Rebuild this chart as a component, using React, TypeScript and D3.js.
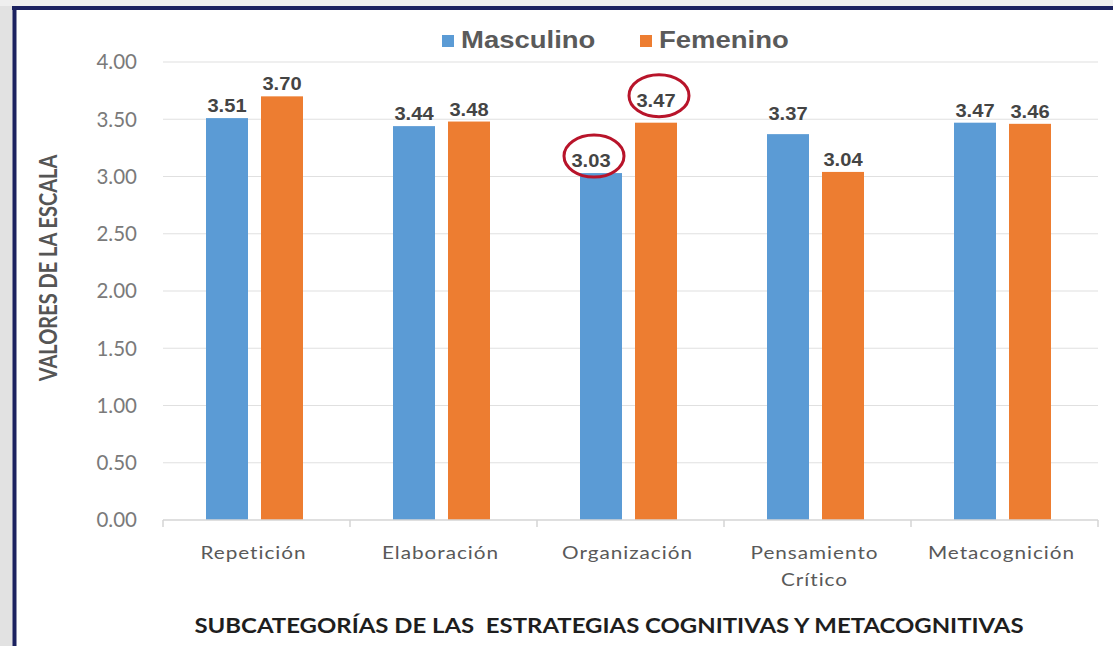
import React from 'react';
import * as d3 from 'd3';

const categories = ['Repetición', 'Elaboración', 'Organización', 'Pensamiento Crítico', 'Metacognición'];
const masculino = [3.51, 3.44, 3.03, 3.37, 3.47];
const femenino = [3.70, 3.48, 3.47, 3.04, 3.46];
const yTicks = [0, 0.5, 1, 1.5, 2, 2.5, 3, 3.5, 4];
const seriesNames = ['Masculino', 'Femenino'];
const seriesColors = ['#5b9bd5', '#ed7d31'];
// values marked with a red ring: [categoryIndex, seriesIndex]
const circled = [[2, 0], [2, 1]];

const W = 1113;
const H = 646;
const margin = { left: 163, right: 15, top: 62, bottom: 126 };
// the source picture is stretched sideways, so text is too
const SX = 1.22;

// hand nudges of a few labels, as in the source ("cat-series": [dx, dy])
const labelNudge: Record<string, [number, number]> = {
  '2-0': [-10, 0],
  '2-1': [0, -10],
  '3-0': [0, -8],
};

const labelFont = '"Liberation Sans", Arial, sans-serif';
const calFont = 'Lato, "Open Sans", sans-serif';

const Txt: React.FC<{ x: number; y: number; sx?: number; rotate?: number } & React.SVGProps<SVGTextElement>> =
  ({ x, y, sx = SX, rotate, children, ...rest }) => (
    <text transform={`translate(${x},${y}) scale(${sx},1)${rotate ? ` rotate(${rotate})` : ''}`} {...rest}>
      {children}
    </text>
  );

const App: React.FC = () => {
  const x = d3.scaleBand<string>()
    .domain(categories)
    .range([margin.left, W - margin.right]);
  const y = d3.scaleLinear().domain([0, 4]).range([H - margin.bottom, margin.top]);
  const barW = 42;
  const gap = 13;
  const sub = d3.scaleOrdinal<string, number>()
    .domain(seriesNames)
    .range([-(gap / 2) - barW - 2, gap / 2 - 2]);
  const values = [masculino, femenino];
  const center = (c: string) => (x(c) as number) + x.bandwidth() / 2;

  return (
    <div>
      <style>{'body{margin:0}'}</style>
      <svg width={W} height={H} style={{ display: 'block' }}>
        {/* page background and frame */}
        <rect x={0} y={0} width={W} height={H} fill="#e2e2e2" />
        <rect x={0} y={0} width={W} height={6} fill="#efefef" />
        <rect x={14} y={9} width={W - 14} height={H - 9} fill="#ffffff" />
        <line x1={12} x2={W} y1={8} y2={8} stroke="#1c2260" strokeWidth={4} />
        <line x1={14.5} x2={14.5} y1={6} y2={H} stroke="#1c2260" strokeWidth={4} />

        {/* gridlines and y tick labels */}
        {yTicks.map(t => (
          <g key={t}>
            {t > 0 && (
              <line x1={margin.left} x2={W - margin.right} y1={y(t)} y2={y(t)}
                stroke="#e0e0e0" strokeWidth={1.2} />
            )}
            <text x={137} y={y(t)} dy="0.36em" textAnchor="end"
              fontFamily={calFont} fontSize={20.5} fill="#7a7a7a">
              {t.toFixed(2)}
            </text>
          </g>
        ))}

        {/* bars and value labels */}
        {categories.map((c, i) => seriesNames.map((s, j) => {
          const v = values[j][i];
          const bx = center(c) + sub(s);
          const [dx, dy] = labelNudge[`${i}-${j}`] || [0, 0];
          return (
            <g key={c + s}>
              <rect x={bx} y={y(v)} width={barW} height={y(0) - y(v)} fill={seriesColors[j]} />
              <Txt x={bx + barW / 2 + dx} y={y(v) - 6 + dy} sx={1.15} textAnchor="middle"
                fontFamily={labelFont} fontWeight="bold" fontSize={17.5} fill="#444444">
                {v.toFixed(2)}
              </Txt>
            </g>
          );
        }))}

        {/* baseline and category ticks */}
        <line x1={margin.left} x2={W - margin.right} y1={y(0)} y2={y(0)} stroke="#d4d4d4" strokeWidth={1.5} />
        {d3.range(categories.length + 1).map(k => {
          const tx = margin.left + k * x.step();
          return <line key={k} x1={tx} x2={tx} y1={y(0)} y2={y(0) + 7} stroke="#d4d4d4" strokeWidth={1.5} />;
        })}

        {/* category labels */}
        {categories.map(c => {
          const lines = c === 'Pensamiento Crítico' ? ['Pensamiento', 'Crítico'] : [c];
          return lines.map((l, k) => (
            <Txt key={l} x={center(c) - 3} y={y(0) + 39 + k * 27} textAnchor="middle"
              fontFamily={calFont} fontSize={17} fill="#595959" letterSpacing={0.8}>
              {l}
            </Txt>
          ));
        })}

        {/* red rings */}
        {circled.map(([ci, si]) => {
          const [dx, dy] = labelNudge[`${ci}-${si}`] || [0, 0];
          const cx = center(categories[ci]) + sub(seriesNames[si]) + barW / 2 + dx + 3;
          const cy = y(values[si][ci]) - 17 + dy;
          return (
            <ellipse key={`${ci}-${si}`} cx={cx} cy={cy} rx={30} ry={21}
              fill="none" stroke="#b8142a" strokeWidth={3} />
          );
        })}

        {/* legend */}
        {seriesNames.map((s, j) => {
          const lx = j === 0 ? 442 : 640;
          return (
            <g key={s}>
              <rect x={lx} y={35} width={12} height={12} fill={seriesColors[j]} />
              <Txt x={lx + 19} y={48} sx={1.17} fontFamily={labelFont} fontWeight="bold"
                fontSize={23.5} fill="#5a5a5a">{s}</Txt>
            </g>
          );
        })}

        {/* axis titles */}
        <Txt x={57} y={268} sx={1.25} rotate={-90} textAnchor="middle"
          fontFamily={calFont} fontWeight="bold" fontSize={20} fill="#555555">
          VALORES DE LA ESCALA
        </Txt>
        <Txt x={609} y={633} sx={1.14} textAnchor="middle" fontFamily={calFont} fontWeight="bold"
          fontSize={21} fill="#1e1e1e" style={{ whiteSpace: 'pre' }}>
          {'SUBCATEGORÍAS DE LAS  ESTRATEGIAS COGNITIVAS Y METACOGNITIVAS'}
        </Txt>
      </svg>
    </div>
  );
};

export default App;
